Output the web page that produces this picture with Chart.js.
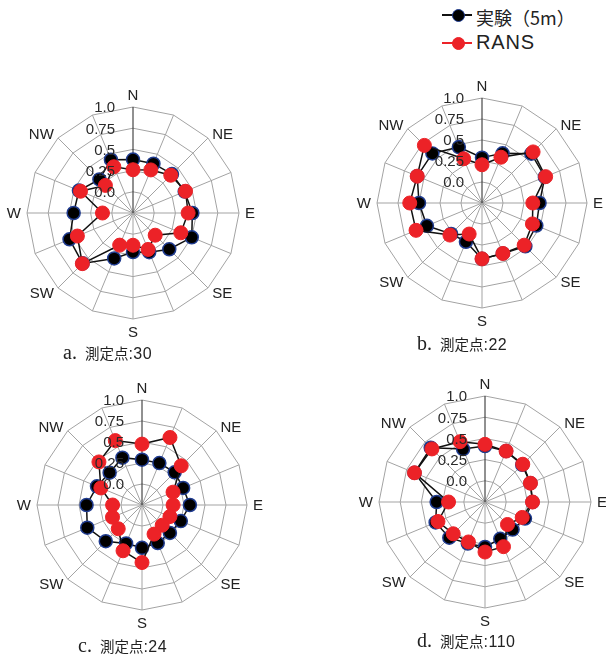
<!DOCTYPE html>
<html>
<head>
<meta charset="utf-8">
<script src="https://cdn.jsdelivr.net/npm/chart.js@4.4.1/dist/chart.umd.min.js"></script>
<style>
  html, body { margin: 0; padding: 0; background: #fff; }
  body { width: 606px; height: 655px; position: relative; overflow: hidden; }
  canvas { position: absolute; }
  .cap { position: absolute; white-space: nowrap; line-height: 24px; color: #222; }
  .cap .l { font-family: "Liberation Serif", "DejaVu Serif", serif; font-size: 20px; margin-right: 8px; }
  .cap .j { font-family: "Noto Sans CJK JP", "Noto Sans", sans-serif; font-size: 14.5px; }
  .cap .n { font-family: "Liberation Sans", Arial, sans-serif; font-size: 16px; letter-spacing: 0.5px; }
  .lg-line { position: absolute; height: 1.5px; }
  .lg-dot { position: absolute; box-sizing: border-box; border-radius: 50%; }
  .lg-text { position: absolute; white-space: nowrap; color: #222; }
</style>
</head>
<body>
<script>
// ---- categories (16 wind directions, only 8 labelled) ----
const directionLabels = ['N','','NE','','E','','SE','','S','','SW','','W','','NW',''];
// ---- radial tick labels ----
const tickValues = [0, 0.25, 0.5, 0.75, 1.0];
const tickLabels = ['0.0', '0.25', '0.5', '0.75', '1.0'];
// ---- series names ----
const seriesNames = ['実験（5m）', 'RANS'];
// ---- panel captions ----
const panelLetters = ['a.', 'b.', 'c.', 'd.'];
const panelStation = ['測定点', '測定点', '測定点', '測定点'];
const panelIds = [':30', ':22', ':24', ':110'];
// ---- series values (N, NNE, NE, ENE, E, ESE, SE, SSE, S, SSW, SW, WSW, W, WNW, NW, NNW) ----
const expA  = [0.38, 0.38, 0.40, 0.41, 0.45, 0.50, 0.355, 0.25, 0.21, 0.33, 0.59, 0.56, 0.45, 0.44, 0.31, 0.43];
const ransA = [0.26, 0.30, 0.38, 0.42, 0.40, 0.36, 0.12, 0.215, 0.13, 0.16, 0.595, 0.46, 0.11, 0.42, 0.21, 0.34];
const expB  = [0.29, 0.39, 0.58, 0.56, 0.435, 0.45, 0.48, 0.40, 0.415, 0.25, 0.27, 0.46, 0.50, 0.585, 0.585, 0.47];
const ransB = [0.205, 0.34, 0.61, 0.57, 0.355, 0.40, 0.46, 0.40, 0.415, 0.15, 0.29, 0.60, 0.61, 0.585, 0.72, 0.32];
const expC  = [0.29, 0.29, 0.30, 0.28, 0.32, 0.25, 0.22, 0.24, 0.26, 0.245, 0.36, 0.455, 0.41, 0.33, 0.295, 0.36];
const ransC = [0.475, 0.62, 0.41, 0.15, 0.12, 0.11, 0.09, 0.125, 0.435, 0.34, 0.15, 0.13, 0.10, 0.28, 0.475, 0.58];
const expD  = [0.41, 0.40, 0.37, 0.33, 0.31, 0.26, 0.21, 0.22, 0.28, 0.28, 0.345, 0.38, 0.32, 0.65, 0.655, 0.425];
const ransD = [0.43, 0.40, 0.38, 0.33, 0.31, 0.225, 0.125, 0.32, 0.34, 0.26, 0.28, 0.35, 0.18, 0.65, 0.635, 0.52];

// ---- layout (panel centres / radii in page pixels) ----
const PAD = 28;
const panels = [
  { exp: expA, rans: ransA, cx: 133, cy: 213, R: 106, capX: 63,  capY: 340 },
  { exp: expB, rans: ransB, cx: 482, cy: 203, R: 105, capX: 417, capY: 331 },
  { exp: expC, rans: ransC, cx: 142, cy: 505, R: 105, capX: 78,  capY: 633 },
  { exp: expD, rans: ransD, cx: 485, cy: 502, R: 106, capX: 417, capY: 628 }
];

const GRID = '#a3a3a3';
const RED = '#ec2227';

const labelPlugin = {
  id: 'excelLabels',
  afterDatasetsDraw(chart) {
    const s = chart.scales.r;
    const ctx = chart.ctx;
    ctx.save();
    ctx.fillStyle = '#2a2a2a';
    ctx.font = '15px "Liberation Sans", Arial, sans-serif';
    const capH = 15 * 0.716;
    ctx.textAlign = 'right';
    ctx.textBaseline = 'alphabetic';
    tickValues.forEach((v, i) => {
      const y = s.yCenter - s.getDistanceFromCenterForValue(v);
      ctx.fillText(tickLabels[i], s.xCenter - 18, y + capH / 2);
    });
    ctx.fillStyle = '#222';
    const R = s.drawingArea;
    const pad = 6;
    directionLabels.forEach((lab, i) => {
      if (!lab) return;
      const a = s.getIndexAngle(i);
      const sx = Math.sin(a), cyv = -Math.cos(a);
      const x = s.xCenter + sx * (R + pad);
      let y = s.yCenter + cyv * (R + pad);
      let align = 'center';
      if (sx > 0.01) align = 'left';
      else if (sx < -0.01) align = 'right';
      else y += cyv * (capH / 2 + 1);
      ctx.textAlign = align;
      ctx.fillText(lab, x, y + capH / 2);
    });
    ctx.restore();
  }
};

panels.forEach((p, k) => {
  const size = 2 * p.R + 2 * PAD;
  const cv = document.createElement('canvas');
  cv.width = size; cv.height = size;
  cv.style.width = size + 'px'; cv.style.height = size + 'px';
  cv.style.left = (p.cx - p.R - PAD) + 'px';
  cv.style.top = (p.cy - p.R - PAD) + 'px';
  document.body.appendChild(cv);

  new Chart(cv, {
    type: 'radar',
    data: {
      labels: directionLabels,
      datasets: [
        {
          label: seriesNames[0], data: p.exp, order: 1,
          borderColor: '#111', borderWidth: 1.5, fill: false,
          pointBackgroundColor: '#000', pointBorderColor: '#1f3b8f',
          pointBorderWidth: 1.5, pointRadius: 6.5
        },
        {
          label: seriesNames[1], data: p.rans, order: 0,
          borderColor: '#111', borderWidth: 1.5, fill: false,
          pointBackgroundColor: RED, pointBorderColor: RED,
          pointBorderWidth: 1, pointRadius: 7
        }
      ]
    },
    options: {
      responsive: false, animation: false, devicePixelRatio: 1,
      layout: { padding: PAD },
      elements: { line: { tension: 0 } },
      plugins: { legend: { display: false }, tooltip: { enabled: false } },
      scales: {
        r: {
          min: -0.25, max: 1.0, startAngle: 0,
          ticks: { display: false, stepSize: 0.25 },
          pointLabels: { display: false },
          grid: { color: GRID, lineWidth: 1 },
          angleLines: { color: c => (c.index === 0 ? '#222' : GRID), lineWidth: 1 }
        }
      }
    },
    plugins: [labelPlugin]
  });

  const cap = document.createElement('div');
  cap.className = 'cap';
  cap.style.left = p.capX + 'px';
  cap.style.top = p.capY + 'px';
  const l = document.createElement('span'); l.className = 'l'; l.textContent = panelLetters[k];
  const j = document.createElement('span'); j.className = 'j'; j.textContent = panelStation[k];
  const n = document.createElement('span'); n.className = 'n'; n.textContent = panelIds[k];
  cap.appendChild(l); cap.appendChild(j); cap.appendChild(n);
  document.body.appendChild(cap);
});

// ---- figure legend ----
const legendRows = [
  { y: 15, line: '#111', fill: '#000', border: '#1f3b8f', font: '18px "Noto Sans CJK JP", sans-serif', lh: 22 },
  { y: 43, line: RED, fill: RED, border: RED, font: '20px "Liberation Sans", Arial, sans-serif', lh: 24, ls: '0.8px' }
];
legendRows.forEach((r, i) => {
  const ln = document.createElement('div'); ln.className = 'lg-line';
  ln.style.left = '442px'; ln.style.width = '30px'; ln.style.top = (r.y - 0.75) + 'px';
  ln.style.background = r.line; document.body.appendChild(ln);
  const dt = document.createElement('div'); dt.className = 'lg-dot';
  dt.style.left = '451.5px'; dt.style.top = (r.y - 6.5) + 'px';
  dt.style.width = '13px'; dt.style.height = '13px';
  dt.style.background = r.fill; dt.style.border = '1.5px solid ' + r.border;
  document.body.appendChild(dt);
  const tx = document.createElement('div'); tx.className = 'lg-text';
  tx.style.left = '476px'; tx.style.top = (r.y - r.lh / 2) + 'px';
  tx.style.lineHeight = r.lh + 'px'; tx.style.font = r.font;
  if (r.ls) tx.style.letterSpacing = r.ls;
  tx.textContent = seriesNames[i];
  document.body.appendChild(tx);
});
</script>
</body>
</html>
